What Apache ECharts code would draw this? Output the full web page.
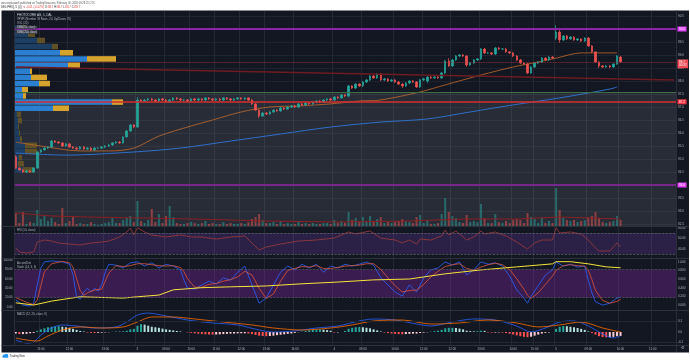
<!DOCTYPE html>
<html><head><meta charset="utf-8">
<script src="https://cdn.jsdelivr.net/npm/echarts@6/dist/echarts.min.js"></script>
<style>html,body{margin:0;padding:0;background:#fff;}#c{width:690px;height:360px;}</style>
</head><body><div id="c"></div>
<script>
// ---------- DATA ----------
const N_SLOTS = 185;
const slots = Array.from({length: N_SLOTS}, (_, i) => 's' + i);
const tickIdx  = [7,15,25,34,42,49,56,63,70,78,89,97,106,114,122,130,139,145,151,160,169,178];
const tickText = ['11:00','12:00','13:00','3','09:00','10:00','11:00','12:00','13:00','14:00','4','09:00','10:00','11:00','12:00','13:00','14:00','15:00','5','09:00','10:00','11:00'];
const priceTicks = {min: 82.5, max: 90.5, step: 0.5};

// [open, close, low, high]
const candles = [
[85.08,84.65,84.62,85.15],[84.65,84.58,84.54,84.69],[84.58,84.50,84.46,84.62],[84.50,84.54,84.46,84.58],[84.54,84.50,84.46,84.58],
[84.50,84.65,84.46,84.69],[84.65,85.27,84.62,85.31],[85.27,85.35,85.23,85.38],[85.35,85.42,85.31,85.46],[85.42,85.46,85.38,85.50],
[85.46,85.69,85.42,85.73],[85.69,85.65,85.62,85.73],[85.65,85.62,85.58,85.69],[85.62,85.50,85.46,85.65],[85.50,85.58,85.46,85.62],
[85.58,85.46,85.42,85.62],[85.46,85.42,85.38,85.50],[85.42,85.38,85.35,85.46],[85.38,85.46,85.35,85.50],[85.46,85.38,85.35,85.50],
[85.38,85.42,85.35,85.46],[85.42,85.35,85.31,85.46],[85.35,85.42,85.31,85.46],[85.42,85.42,85.38,85.46],[85.42,85.46,85.38,85.50],
[85.46,85.50,85.42,85.54],[85.50,85.54,85.46,85.58],[85.54,85.62,85.50,85.65],[85.62,85.65,85.58,85.69],[85.65,85.62,85.58,85.69],
[85.62,85.85,85.58,85.88],[85.85,86.08,85.81,86.12],[86.08,86.31,86.04,86.35],[86.31,86.23,86.19,86.35],[86.23,87.27,86.19,87.38],
[87.27,87.23,87.19,87.31],[87.23,87.27,87.19,87.31],[87.27,87.31,87.23,87.35],[87.31,87.27,87.23,87.35],[87.27,87.23,87.19,87.31],
[87.23,87.31,87.19,87.35],[87.31,87.27,87.23,87.35],[87.27,87.19,87.15,87.31],[87.19,87.27,87.15,87.31],[87.27,87.35,87.23,87.38],
[87.35,87.31,87.27,87.38],[87.31,87.27,87.23,87.35],[87.27,87.27,87.23,87.31],[87.27,87.23,87.19,87.31],[87.23,87.31,87.19,87.35],
[87.31,87.27,87.23,87.35],[87.27,87.31,87.23,87.35],[87.31,87.27,87.23,87.35],[87.27,87.35,87.23,87.38],[87.35,87.31,87.27,87.38],
[87.31,87.27,87.23,87.35],[87.27,87.31,87.23,87.35],[87.31,87.27,87.23,87.35],[87.27,87.35,87.23,87.38],[87.35,87.31,87.27,87.38],
[87.31,87.27,87.23,87.35],[87.27,87.31,87.23,87.35],[87.31,87.35,87.27,87.38],[87.35,87.31,87.27,87.38],[87.31,87.35,87.27,87.38],
[87.35,87.27,87.23,87.38],[87.27,87.12,87.08,87.31],[87.12,86.88,86.85,87.15],[86.88,86.65,86.58,86.92],[86.65,86.77,86.62,86.81],
[86.77,86.73,86.69,86.81],[86.73,86.81,86.69,86.85],[86.81,86.88,86.77,86.92],[86.88,86.85,86.81,86.92],[86.85,86.96,86.81,87.00],
[86.96,86.92,86.88,87.00],[86.92,87.00,86.88,87.04],[87.00,87.04,86.96,87.08],[87.04,87.00,86.96,87.08],[87.00,87.12,86.96,87.15],
[87.12,87.08,87.04,87.15],[87.08,87.15,87.04,87.19],[87.15,87.12,87.08,87.19],[87.12,87.19,87.08,87.23],[87.19,87.23,87.15,87.27],
[87.23,87.19,87.15,87.27],[87.19,87.27,87.15,87.31],[87.27,87.31,87.23,87.35],[87.31,87.27,87.23,87.35],[87.27,87.38,87.23,87.42],
[87.38,87.35,87.31,87.42],[87.35,87.46,87.31,87.50],[87.46,87.42,87.38,87.50],[87.42,87.81,87.38,87.85],[87.81,87.73,87.69,87.85],
[87.73,87.88,87.69,87.92],[87.88,87.81,87.77,87.92],[87.81,87.96,87.77,88.00],[87.96,88.04,87.92,88.08],[88.04,88.19,88.00,88.23],
[88.19,88.12,88.08,88.23],[88.12,88.27,88.08,88.31],[88.27,88.04,88.00,88.31],[88.04,88.08,88.00,88.12],[88.08,88.00,87.96,88.12],
[88.00,88.04,87.96,88.08],[88.04,87.96,87.92,88.08],[87.96,87.88,87.85,88.00],[87.88,87.81,87.73,87.92],[87.81,87.92,87.77,87.96],
[87.92,88.00,87.88,88.04],[88.00,87.96,87.92,88.04],[87.96,87.77,87.73,88.00],[87.77,88.04,87.73,88.08],[88.04,88.08,88.00,88.12],
[88.00,88.15,87.92,88.19],[88.15,88.12,88.08,88.19],[88.12,88.15,88.08,88.19],[88.15,88.12,88.08,88.19],[88.12,88.31,88.08,88.35],
[88.31,88.77,88.27,88.81],[88.77,88.58,88.54,88.88],[88.58,88.81,88.54,88.85],[88.81,88.96,88.77,89.00],[88.96,89.00,88.92,89.04],
[89.00,88.96,88.92,89.04],[88.96,88.62,88.54,89.00],[88.62,88.69,88.58,88.73],[88.69,88.81,88.65,88.85],[88.81,88.85,88.77,88.88],
[88.85,89.23,88.81,89.27],[89.23,89.08,89.04,89.27],[89.08,89.08,89.04,89.12],[89.08,89.04,89.00,89.12],[89.04,89.27,89.00,89.31],
[89.27,89.23,89.19,89.31],[89.23,89.23,89.19,89.27],[89.23,89.12,89.08,89.27],[89.12,89.08,89.04,89.15],[89.08,88.96,88.92,89.12],
[88.96,88.81,88.77,89.00],[88.81,88.69,88.65,88.85],[88.69,88.65,88.62,88.73],[88.65,88.31,88.27,88.69],[88.31,88.54,88.27,88.58],
[88.54,88.69,88.50,88.73],[88.69,88.73,88.65,88.77],[88.73,88.88,88.69,88.92],[88.88,88.81,88.77,88.92],[88.81,88.92,88.77,88.96],
[88.92,88.88,88.85,88.96],[89.65,89.88,89.58,90.15],[89.88,89.58,89.46,89.96],[89.58,89.73,89.54,89.77],[89.73,89.62,89.58,89.77],
[89.62,89.69,89.58,89.73],[89.69,89.58,89.54,89.73],[89.58,89.62,89.54,89.65],[89.62,89.54,89.50,89.65],[89.54,89.65,89.50,89.69],
[89.65,89.35,89.31,89.69],[89.35,89.12,89.08,89.38],[89.12,88.73,88.69,89.15],[88.73,88.58,88.50,88.77],[88.58,88.54,88.50,88.62],
[88.54,88.58,88.50,88.62],[88.58,88.54,88.50,88.62],[88.54,88.65,88.50,88.69],[88.65,88.96,88.62,89.00],[88.92,88.73,88.69,88.96]
];

const volume = [
130,30,140,20,40,30,160,70,100,50, 80,40,20,180,30,50,90,20,30,20,
20,40,20,10,20,30,40,90,30,30, 60,80,100,40,250,50,30,60,170,40,
120,30,100,200,90,30,20,20,30,40, 30,20,30,50,20,30,20,20,40,20,
30,20,20,30,20,40,70,90,120,60, 30,30,40,20,50,20,30,20,20,50,
20,30,20,30,20,20,30,30,20,60, 30,50,30,140,60,80,40,90,50,100,
50,70,90,30,40,30,40,50,70,50, 40,30,90,110,30,60,20,20,30,120,
280,140,100,80,40,30,110,40,50,40, 220,80,30,30,120,40,30,50,30,60,
70,60,30,130,90,70,30,80,30,50, 30,380,160,80,60,50,60,40,50,60,
90,100,140,80,40,30,40,50,100,60
];
const volMA = [[0,130],[10,100],[20,90],[35,80],[50,70],[70,50],[90,40],[110,50],[125,70],[140,70],[152,90],[169,70]];

const sma50  = [[0,85.65],[7,85.50],[18,85.31],[26,85.31],[33,85.42],[40,85.88],[49,86.27],[55,86.50],[63,86.81],[71,87.00],[79,87.04],[88,87.12],[96,87.23],[102,87.27],[113,87.58],[120,87.85],[130,88.23],[139,88.54],[146,88.73],[151,88.88],[158,89.08],[168,89.08]];
const sma200 = [[0,85.23],[14,85.15],[33,85.27],[46,85.42],[60,85.69],[74,85.96],[88,86.23],[102,86.42],[115,86.54],[127,86.81],[139,87.08],[152,87.35],[166,87.69],[168,87.77]];

const levelTop = 90.0, levelPOC = 87.2, levelBottom = 84.0, levelGreen = 87.58, lastPrice = 88.73;
const trendLine = [[0, 88.54], [184, 88.04]];

// Volume profile (24 rows, top to bottom): up and down volume
const vpUp   = [7,13,22,37,45,72,53,15,16,24,7,8,97,38,2,3,3,4,5,10,10,4,3,8];
const vpDown = [4,7,8,6,13,29,12,2,16,11,6,3,11,16,4,4,1,1,2,12,12,3,6,10];
const vaRows = [4, 13];

const rsi = [[0,41.4],[1,33.8],[3,31.9],[5,33.8],[6,52.8],[8,56.6],[10,54.7],[12,50.9],[15,49.0],[18,47.1],[21,50.9],[24,52.8],[26,54.7],[29,62.4],[31,71.9],[32,79.5],[33,66.2],[34,80.0],[36,71.9],[38,66.2],[42,62.4],[46,66.2],[49,62.4],[52,62.4],[56,58.5],[60,62.4],[64,64.3],[66,51.0],[68,37.6],[70,43.3],[74,49.0],[79,54.7],[84,56.6],[89,60.4],[93,71.9],[95,68.1],[99,73.8],[102,60.4],[106,56.6],[108,51.0],[110,56.6],[112,49.0],[113,58.5],[116,56.6],[119,64.3],[120,75.7],[121,66.2],[123,73.8],[126,56.6],[128,62.4],[130,73.8],[131,68.1],[134,71.9],[137,64.3],[140,52.8],[143,39.5],[145,51.0],[147,56.6],[150,56.6],[151,80.0],[152,70.0],[155,71.9],[158,68.1],[160,56.6],[162,41.4],[163,35.7],[166,35.7],[168,51.0],[169,43.3]];

const stochK = [[0,15],[2,4],[4,2],[5,8],[6,47],[7,83],[8,96],[10,98],[13,96],[15,91],[16,68],[17,21],[18,17],[19,32],[20,40],[21,32],[22,40],[23,34],[24,47],[25,74],[26,91],[28,89],[30,83],[32,94],[34,96],[36,87],[38,94],[40,83],[42,91],[44,87],[46,79],[47,57],[48,40],[50,38],[52,47],[54,55],[56,49],[58,62],[60,57],[62,74],[64,87],[66,47],[68,8],[70,19],[72,47],[74,74],[76,87],[78,79],[80,91],[82,83],[84,91],[86,74],[88,87],[90,83],[92,91],[94,87],[96,91],[98,96],[100,89],[102,62],[104,47],[106,32],[108,23],[110,47],[112,32],[114,62],[116,79],[118,83],[120,96],[122,89],[124,96],[126,68],[128,79],[130,96],[132,91],[134,94],[136,87],[138,66],[140,36],[142,19],[143,8],[144,23],[146,45],[148,68],[150,79],[151,96],[153,87],[155,91],[157,85],[159,87],[160,57],[161,30],[162,11],[164,4],[166,8],[168,19],[169,21]];
const stochD = [[0,20],[3,10],[5,5],[6,15],[7,45],[8,75],[10,92],[13,97],[15,94],[16,85],[17,60],[18,35],[19,25],[20,30],[22,36],[24,38],[25,55],[26,72],[28,88],[30,86],[32,88],[34,92],[36,92],[38,90],[40,88],[42,87],[44,88],[46,84],[47,75],[48,60],[50,42],[52,42],[54,48],[56,50],[58,55],[60,58],[62,64],[64,76],[66,68],[68,40],[70,18],[72,28],[74,55],[76,78],[78,82],[80,86],[82,85],[84,88],[86,82],[88,82],[90,84],[92,87],[94,88],[96,89],[98,92],[100,92],[102,80],[104,62],[106,45],[108,32],[110,35],[112,36],[114,48],[116,64],[118,76],[120,86],[122,90],[124,92],[126,82],[128,78],[130,85],[132,90],[134,93],[136,90],[138,80],[140,60],[142,38],[143,25],[144,18],[146,30],[148,48],[150,66],[151,78],[153,88],[155,90],[157,88],[159,87],[160,78],[161,58],[162,35],[164,14],[166,8],[168,12],[169,16]];
const accumDist = [[0,0.05],[5,0.0],[10,0.09],[18,0.19],[30,0.16],[34,0.19],[40,0.23],[44,0.35],[52,0.40],[60,0.42],[70,0.44],[80,0.49],[90,0.53],[100,0.58],[110,0.60],[120,0.72],[130,0.81],[140,0.88],[150,0.95],[151,1.0],[155,1.0],[160,0.95],[165,0.88],[169,0.86]];

const macdHist = [
-0.015,-0.02,-0.02,-0.018,-0.012,-0.008,
0.01,0.025,0.035,0.045,0.05,0.055,0.055,0.05,0.045,0.04,0.03,0.02,0.01,0.005,
-0.005,-0.008,-0.01,-0.008,-0.006,-0.004,-0.002,0.002,0.004,0.003,0.006,0.012,
0.025,0.03,0.06,0.075,0.07,0.06,0.05,0.045,0.04,0.032,0.025,0.02,0.015,0.01,
0.005,0.0,-0.004,
-0.008,-0.012,-0.016,-0.02,-0.022,-0.024,-0.025,-0.024,-0.022,-0.02,-0.018,-0.016,-0.015,-0.013,-0.012,-0.012,-0.015,-0.02,-0.028,-0.035,-0.038,-0.04,-0.038,-0.035,-0.03,-0.026,-0.022,-0.018,-0.014,
-0.008,-0.002,0.004,0.01,0.016,0.02,0.024,0.025,0.022,0.018,0.012,
-0.005,-0.004,0.0,
0.01,0.03,0.04,0.045,0.048,0.045,0.04,0.035,0.025,0.015,0.005,
-0.005,-0.01,-0.014,-0.018,-0.02,-0.022,-0.02,-0.018,-0.016,-0.015,-0.01,-0.006,-0.003,
0.003,0.008,0.012,0.02,0.035,0.04,0.04,0.038,0.032,0.025,0.012,0.008,
0.006,0.008,0.012,0.01,
-0.004,-0.006,-0.005,-0.004,-0.006,
-0.01,-0.016,-0.024,-0.032,-0.04,-0.046,-0.05,-0.045,-0.035,-0.025,-0.015,-0.008,-0.004,0.0,
0.03,0.05,0.057,0.055,0.05,0.045,0.038,0.03,0.02,
0.005,-0.01,-0.025,-0.04,-0.048,-0.05,-0.05,-0.047,-0.04,-0.038
];
const macdLine = [[0,-0.076],[3,-0.105],[5,-0.095],[7,-0.029],[10,0.038],[13,0.067],[17,0.057],[22,0.038],[28,0.048],[31,0.095],[34,0.162],[37,0.18],[42,0.152],[48,0.114],[55,0.086],[62,0.067],[68,0.019],[72,0.0],[78,0.01],[84,0.038],[90,0.057],[96,0.105],[100,0.124],[106,0.114],[112,0.076],[116,0.057],[122,0.095],[128,0.124],[134,0.114],[140,0.057],[144,0.0],[148,0.038],[152,0.095],[156,0.105],[160,0.057],[164,-0.019],[167,-0.057],[169,-0.038]];
const signalLine = [[0,-0.057],[3,-0.076],[6,-0.086],[9,-0.038],[13,0.019],[18,0.048],[24,0.038],[30,0.048],[34,0.095],[38,0.143],[44,0.143],[50,0.124],[58,0.095],[66,0.067],[72,0.038],[80,0.019],[88,0.038],[94,0.067],[100,0.105],[108,0.114],[116,0.076],[124,0.086],[132,0.114],[140,0.086],[146,0.048],[152,0.067],[158,0.095],[164,0.038],[169,0.0]];

// ---------- STYLE ----------
const UP = '#26a69a', DN = '#ef5350';
const TXT = '#b2b5be';
const FONT = 'Liberation Sans, Arial, sans-serif';
const GRIDC = '#1f2330';
const tickFn = (i) => tickIdx.indexOf(i) >= 0;

function xAxisFor(gi, opts) {
  opts = opts || {};
  return {
    type: 'category', gridIndex: gi, data: slots, boundaryGap: true,
    axisLine: {show: false}, axisTick: {show: false},
    axisLabel: opts.labels ? {
      show: true, interval: tickFn, fontSize: 3, color: TXT, margin: 2.2, fontFamily: FONT,
      formatter: (v, i) => tickText[tickIdx.indexOf(i)] || ''
    } : {show: false},
    splitLine: {show: !!opts.split, interval: tickFn, lineStyle: {color: '#242833', width: 1}}
  };
}
const hideAxis = {axisLine: {show: false}, axisTick: {show: false}};

const volColors = volume.map((v, i) => candles[i] && candles[i][1] >= candles[i][0] ? 'rgba(38,166,154,0.5)' : 'rgba(239,83,80,0.5)');
const histColors = macdHist.map((v, i) => {
  const p = i > 0 ? macdHist[i - 1] : v;
  if (v >= 0) return v >= p ? '#26a69a' : '#b2dfdb';
  return v < p ? '#ff5252' : '#ffcdd2';
});
const inVA = (r) => r >= vaRows[0] && r <= vaRows[1];

function boxLabel(text, bg) {
  return {show: true, position: 'end', formatter: text, color: '#fff', backgroundColor: bg,
    fontSize: 3, padding: [1, 1.6], distance: 1.5, fontFamily: FONT};
}

const option = {
  animation: false,
  backgroundColor: 'transparent',
  textStyle: {fontFamily: FONT},
  grid: [
    {left: 14, right: 14, top: 16, height: 208},
    {left: 14, right: 14, top: 227, height: 31},
    {left: 14, right: 14, top: 259, height: 51},
    {left: 14, right: 14, top: 311, height: 34},
    {left: 15, right: 14, top: 25, height: 148},
    {left: 14, right: 14, top: 11, height: 215}
  ],
  xAxis: [
    xAxisFor(0),
    xAxisFor(1, {split: true}),
    xAxisFor(2, {split: true}),
    xAxisFor(3, {split: true, labels: true}),
    {type: 'value', gridIndex: 4, min: 0, max: 661, show: false},
    xAxisFor(5, {split: true})
  ],
  yAxis: [
    Object.assign({type: 'value', gridIndex: 0, position: 'right', min: priceTicks.min, max: priceTicks.max, interval: priceTicks.step,
      axisLabel: {fontSize: 3, color: TXT, margin: 2, formatter: v => v.toFixed(1)},
      splitLine: {lineStyle: {color: GRIDC}}}, hideAxis),
    Object.assign({type: 'value', gridIndex: 1, position: 'right', min: 22.4, max: 81.4,
      axisLabel: {fontSize: 3, color: TXT, margin: 2, customValues: [40, 60, 80], formatter: v => v.toFixed(2)},
      splitLine: {show: false}}, hideAxis),
    Object.assign({type: 'value', gridIndex: 2, position: 'left', min: -6.4, max: 102.1,
      axisLabel: {fontSize: 3, color: TXT, margin: 1.5, customValues: [0, 20, 40, 60, 80, 100], formatter: v => v.toFixed(2)},
      splitLine: {show: false}}, hideAxis),
    Object.assign({type: 'value', gridIndex: 3, position: 'right', min: -0.124, max: 0.2,
      axisLabel: {fontSize: 3, color: TXT, margin: 2, customValues: [-0.1, 0, 0.1], formatter: v => v.toFixed(1)},
      splitLine: {show: false}}, hideAxis),
    {type: 'category', gridIndex: 4, data: vpUp.map((v, i) => 'r' + i), inverse: true, show: false},
    {type: 'value', gridIndex: 5, min: 0, max: 2150, show: false},
    Object.assign({type: 'value', gridIndex: 2, position: 'right', min: -0.115, max: 1.062,
      axisLabel: {fontSize: 3, color: TXT, margin: 2, customValues: [0, 0.2, 0.4, 0.6, 0.8, 1.0], formatter: v => v.toFixed(3)},
      splitLine: {show: false}}, hideAxis)
  ],
  graphic: [
    {type: 'rect', z: -100, silent: true, shape: {x: 1.5, y: 10.5, width: 687.5, height: 342}, style: {fill: '#131722'}},
    {type: 'line', z: 50, silent: true, shape: {x1: 14.5, y1: 10.5, x2: 14.5, y2: 345.5}, style: {stroke: '#2a2e39', lineWidth: 1}},
    {type: 'line', z: 50, silent: true, shape: {x1: 676.5, y1: 10.5, x2: 676.5, y2: 352}, style: {stroke: '#2a2e39', lineWidth: 1}},
    {type: 'line', z: 50, silent: true, shape: {x1: 1.5, y1: 226.5, x2: 689, y2: 226.5}, style: {stroke: '#2e323d', lineWidth: 1}},
    {type: 'line', z: 50, silent: true, shape: {x1: 1.5, y1: 258.5, x2: 689, y2: 258.5}, style: {stroke: '#2e323d', lineWidth: 1}},
    {type: 'line', z: 50, silent: true, shape: {x1: 1.5, y1: 310.5, x2: 689, y2: 310.5}, style: {stroke: '#2e323d', lineWidth: 1}},
    {type: 'line', z: 50, silent: true, shape: {x1: 1.5, y1: 345.5, x2: 689, y2: 345.5}, style: {stroke: '#2e323d', lineWidth: 1}},
    // header
    {type: 'text', z: 100, x: 1, y: 2.8, style: {text: 'wasserglaswerk published on TradingView.com, February 05, 2020 09:28:21 UTC', fill: '#555', fontSize: 2.6, fontFamily: FONT, verticalAlign: 'middle'}},
    {type: 'text', z: 100, x: 1, y: 7, style: {text: '{n|DEL:PHIQ, 5 (Q)} {r|▼ -0.01 (-0.07%)} {n|O:}{r|88.7} {n|H:}{r|88.7} {n|L:}{r|88.7} {n|C:}{r|88.7}', fontSize: 2.8, fontFamily: FONT, verticalAlign: 'middle',
      rich: {n: {fill: '#222', color: '#222', fontSize: 2.8}, r: {fill: '#e53935', color: '#e53935', fontSize: 2.8}}}},
    // pane legends
    {type: 'text', z: 100, x: 17, y: 15, style: {text: 'PHOTOCORE AG, 5, DAL', fill: '#d1d4dc', fontSize: 3, fontFamily: FONT, verticalAlign: 'middle'}},
    {type: 'text', z: 100, x: 17, y: 19.2, style: {text: 'VPVR (Number Of Rows, 24, Up/Down, 70)', fill: TXT, fontSize: 2.8, fontFamily: FONT, verticalAlign: 'middle'}},
    {type: 'text', z: 100, x: 17, y: 23.4, style: {text: 'VOL (20)', fill: TXT, fontSize: 2.8, fontFamily: FONT, verticalAlign: 'middle'}},
    {type: 'rect', z: 99, shape: {x: 15.5, y: 25.8, width: 22, height: 3.6}, style: {fill: 'rgba(60,64,75,0.85)'}},
    {type: 'text', z: 100, x: 17, y: 27.6, style: {text: 'SMA (50, close)', fill: '#d1d4dc', fontSize: 2.6, fontFamily: FONT, verticalAlign: 'middle'}},
    {type: 'rect', z: 99, shape: {x: 15.5, y: 30.2, width: 22, height: 3.6}, style: {fill: 'rgba(60,64,75,0.85)'}},
    {type: 'text', z: 100, x: 17, y: 32, style: {text: 'SMA (200, close)', fill: '#d1d4dc', fontSize: 2.6, fontFamily: FONT, verticalAlign: 'middle'}},
    {type: 'text', z: 100, x: 17, y: 230.5, style: {text: 'RSI (14, close)', fill: TXT, fontSize: 2.8, fontFamily: FONT, verticalAlign: 'middle'}},
    {type: 'text', z: 100, x: 17, y: 263, style: {text: 'Accum/Dist', fill: TXT, fontSize: 2.8, fontFamily: FONT, verticalAlign: 'middle'}},
    {type: 'text', z: 100, x: 17, y: 267, style: {text: 'Stoch (14, 3, 3)', fill: TXT, fontSize: 2.8, fontFamily: FONT, verticalAlign: 'middle'}},
    {type: 'text', z: 100, x: 17, y: 314.5, style: {text: 'MACD (12, 26, close, 9)', fill: TXT, fontSize: 2.8, fontFamily: FONT, verticalAlign: 'middle'}},
    {type: 'text', z: 100, x: 682.5, y: 348.5, style: {text: '⚙', fill: TXT, fontSize: 3.5, align: 'center', verticalAlign: 'middle'}},
    // footer logo
    {type: 'circle', z: 100, shape: {cx: 4.2, cy: 356, r: 1.6}, style: {fill: '#2196f3'}},
    {type: 'circle', z: 100, shape: {cx: 6.3, cy: 355.6, r: 1.9}, style: {fill: '#2196f3'}},
    {type: 'rect', z: 100, shape: {x: 2.6, y: 356, width: 5.6, height: 1.6}, style: {fill: '#2196f3'}},
    {type: 'text', z: 100, x: 9.5, y: 356.5, style: {text: 'TradingView', fill: '#333', fontSize: 2.8, fontFamily: FONT, verticalAlign: 'middle'}}
  ],
  series: [
    // volume (background pane) with gray zone
    {type: 'bar', xAxisIndex: 5, yAxisIndex: 5, z: 1, barWidth: 2, silent: true,
      data: volume.map((v, i) => ({value: v, itemStyle: {color: volColors[i]}})),
      markArea: {silent: true, itemStyle: {color: 'rgba(120,123,134,0.22)'}, data: [[{yAxis: 1340}, {yAxis: 0}]]}},
    {type: 'line', xAxisIndex: 5, yAxisIndex: 5, z: 1, data: volMA, showSymbol: false, connectNulls: true, silent: true,
      lineStyle: {color: '#8b1e24', width: 1}},
    // volume profile
    {type: 'bar', xAxisIndex: 4, yAxisIndex: 4, stack: 'vp', z: 2, barCategoryGap: '10%', silent: true,
      data: vpUp.map((v, r) => ({value: v, itemStyle: {color: inVA(r) ? '#2a7fd0' : '#1c3e63'}}))},
    {type: 'bar', xAxisIndex: 4, yAxisIndex: 4, stack: 'vp', z: 2, barCategoryGap: '10%', silent: true,
      data: vpDown.map((v, r) => ({value: v, itemStyle: {color: inVA(r) ? '#d6a42d' : '#5f5027'}}))},
    // candles
    {type: 'candlestick', xAxisIndex: 0, yAxisIndex: 0, z: 4, barWidth: 2, silent: true, data: candles,
      itemStyle: {color: UP, color0: DN, borderColor: UP, borderColor0: DN, borderWidth: 0.7},
      markLine: {silent: true, symbol: ['none', 'none'], animation: false, data: [
        {yAxis: levelTop, lineStyle: {color: '#8e24aa', width: 2, type: 'solid'}, label: boxLabel(levelTop.toFixed(1), '#e040fb')},
        {yAxis: levelGreen, lineStyle: {color: '#3f6e45', width: 1, type: 'solid'}, label: {show: false}},
        {yAxis: levelPOC, lineStyle: {color: '#d32f2f', width: 1.5, type: 'solid'}, label: boxLabel(levelPOC.toFixed(1), '#f23645')},
        {yAxis: levelBottom, lineStyle: {color: '#8e24aa', width: 1.5, type: 'solid'}, label: boxLabel(levelBottom.toFixed(1), '#e040fb')},
        {yAxis: lastPrice, lineStyle: {color: '#a8323a', width: 0.8, type: 'dotted'},
          label: Object.assign(boxLabel(lastPrice.toFixed(1) + '\n00:32', '#f04a57'), {lineHeight: 3.4, offset: [0, 1.8]})},
        [{coord: trendLine[0], lineStyle: {color: '#6e1b22', width: 1.5, type: 'solid'}, label: {show: false}}, {coord: trendLine[1]}]
      ]}},
    {type: 'line', xAxisIndex: 0, yAxisIndex: 0, z: 3, data: sma50, showSymbol: false, connectNulls: true, smooth: 0.3, silent: true,
      lineStyle: {color: '#c26a2c', width: 0.8}},
    {type: 'line', xAxisIndex: 0, yAxisIndex: 0, z: 3, data: sma200, showSymbol: false, connectNulls: true, smooth: 0.3, silent: true,
      lineStyle: {color: '#2f6fc9', width: 1}},
    // RSI
    {type: 'line', xAxisIndex: 1, yAxisIndex: 1, data: rsi, showSymbol: false, connectNulls: true, silent: true,
      lineStyle: {color: '#a03c3c', width: 0.8},
      markArea: {silent: true, itemStyle: {color: 'rgba(132,70,200,0.22)'}, data: [[{yAxis: 70}, {yAxis: 30}]]},
      markLine: {silent: true, symbol: ['none', 'none'], label: {show: false},
        lineStyle: {color: '#6b6e7a', width: 0.6, type: 'dashed'}, data: [{yAxis: 70}, {yAxis: 30}]}},
    // Stoch + Accum/Dist
    {type: 'line', xAxisIndex: 2, yAxisIndex: 2, data: stochK, showSymbol: false, connectNulls: true, silent: true,
      lineStyle: {color: '#2962ff', width: 0.8},
      markArea: {silent: true, itemStyle: {color: 'rgba(150,40,190,0.3)'}, data: [[{yAxis: 80}, {yAxis: 20}]]},
      markLine: {silent: true, symbol: ['none', 'none'], label: {show: false},
        lineStyle: {color: '#5d5f6b', width: 0.6, type: 'dashed'}, data: [{yAxis: 80}, {yAxis: 20}]}},
    {type: 'line', xAxisIndex: 2, yAxisIndex: 2, data: stochD, showSymbol: false, connectNulls: true, silent: true,
      lineStyle: {color: '#e0553a', width: 0.8}},
    {type: 'line', xAxisIndex: 2, yAxisIndex: 6, data: accumDist, showSymbol: false, connectNulls: true, silent: true,
      lineStyle: {color: '#f5e33a', width: 1}},
    // MACD
    {type: 'bar', xAxisIndex: 3, yAxisIndex: 3, barWidth: 2, silent: true,
      data: macdHist.map((v, i) => ({value: v, itemStyle: {color: histColors[i]}})),
      markLine: {silent: true, symbol: ['none', 'none'], label: {show: false},
        lineStyle: {color: '#22262f', width: 1, type: 'solid'}, data: [{yAxis: 0.1}, {yAxis: -0.1}]}},
    {type: 'line', xAxisIndex: 3, yAxisIndex: 3, data: macdLine, showSymbol: false, connectNulls: true, smooth: 0.3, silent: true,
      lineStyle: {color: '#2962ff', width: 0.8}},
    {type: 'line', xAxisIndex: 3, yAxisIndex: 3, data: signalLine, showSymbol: false, connectNulls: true, smooth: 0.3, silent: true,
      lineStyle: {color: '#ff6d00', width: 0.8}}
  ]
};
const chart = echarts.init(document.getElementById('c'), null, {renderer: 'canvas', width: 690, height: 360});
chart.setOption(option);
</script>
</body></html>
